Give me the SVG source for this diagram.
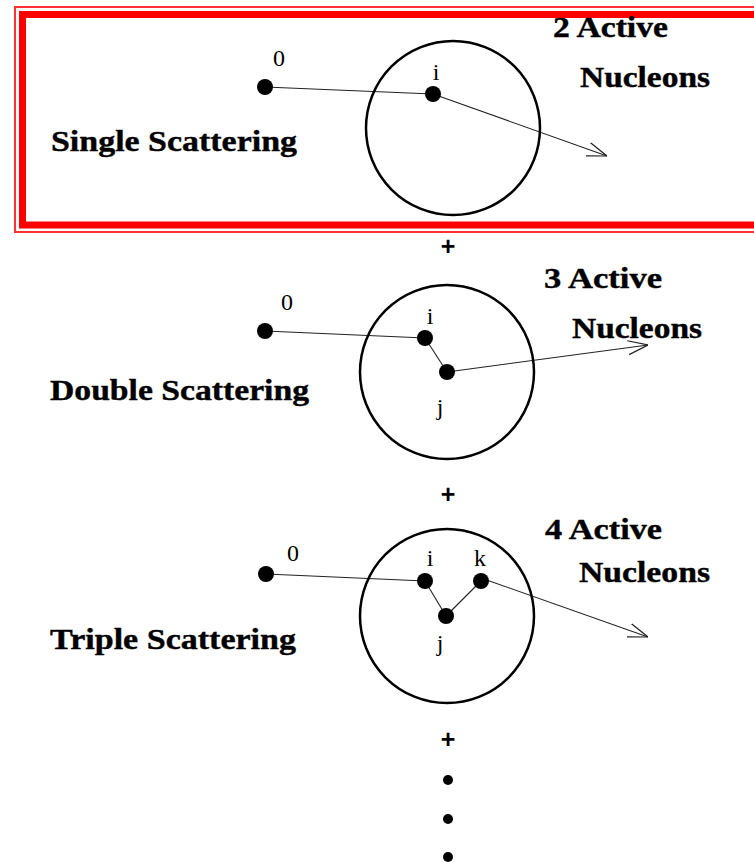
<svg xmlns="http://www.w3.org/2000/svg" width="754" height="862" viewBox="0 0 754 862">
<style>
.title{font-family:"Liberation Serif","DejaVu Serif",serif;font-weight:bold;font-size:30px;fill:#000;stroke:#000;stroke-width:0.4}
.lbl{font-family:"Liberation Serif","DejaVu Serif",serif;font-size:24px;fill:#000}
.plus{font-family:"Liberation Sans","DejaVu Sans",sans-serif;font-weight:bold;font-size:25px;fill:#000}
.nuc{fill:none;stroke:#000;stroke-width:2.5}
.dot{fill:#000}
.ln{fill:none;stroke:#222;stroke-width:1.1}
</style>
<defs>
<marker id="arr" viewBox="0 0 20 16" refX="20" refY="8" markerWidth="20" markerHeight="16" markerUnits="userSpaceOnUse" orient="auto">
<path d="M0,1 L20,8 L0,15" fill="none" stroke="#222" stroke-width="1.2"/>
</marker>
</defs>
<rect width="754" height="862" fill="#fff"/>
<g id="frame">
<rect x="15" y="7" width="760" height="225" fill="none" stroke="#ff3030" stroke-width="2"/>
<rect x="22.5" y="14.5" width="760" height="210.5" fill="none" stroke="#ff0000" stroke-width="7"/>
</g>
<g id="connectors">
<line class="ln" x1="265" y1="87" x2="433" y2="94"/>
<line class="ln" x1="433" y1="94" x2="607" y2="156" marker-end="url(#arr)"/>
<line class="ln" x1="265" y1="331" x2="425" y2="338"/>
<line class="ln" x1="425" y1="338" x2="447" y2="372"/>
<line class="ln" x1="447" y1="372" x2="648" y2="345" marker-end="url(#arr)"/>
<line class="ln" x1="266" y1="574" x2="425" y2="581"/>
<line class="ln" x1="425" y1="581" x2="446" y2="616"/>
<line class="ln" x1="446" y1="616" x2="481" y2="581"/>
<line class="ln" x1="481" y1="578" x2="648" y2="637" marker-end="url(#arr)"/>
</g>
<g id="single">
<circle class="nuc" cx="453" cy="128" r="87"/>
<circle class="dot" cx="265" cy="87" r="8"/>
<circle class="dot" cx="433" cy="94" r="8"/>
<text class="lbl" x="279" y="66" text-anchor="middle">0</text>
<text class="lbl" x="436" y="80" text-anchor="middle">i</text>
<text class="title" x="51" y="151" textLength="246" lengthAdjust="spacingAndGlyphs">Single Scattering</text>
<text class="title" x="553" y="37" textLength="115" lengthAdjust="spacingAndGlyphs">2 Active</text>
<text class="title" x="580" y="87" textLength="130" lengthAdjust="spacingAndGlyphs">Nucleons</text>
</g>
<text class="plus" x="448" y="255" text-anchor="middle">+</text>
<g id="double">
<circle class="nuc" cx="447" cy="372" r="87"/>
<circle class="dot" cx="265" cy="331" r="8"/>
<circle class="dot" cx="425" cy="338" r="8"/>
<circle class="dot" cx="447" cy="372" r="8"/>
<text class="lbl" x="287" y="310" text-anchor="middle">0</text>
<text class="lbl" x="430" y="324" text-anchor="middle">i</text>
<text class="lbl" x="440" y="415" text-anchor="middle">j</text>
<text class="title" x="50" y="400" textLength="259" lengthAdjust="spacingAndGlyphs">Double Scattering</text>
<text class="title" x="544" y="288" textLength="118" lengthAdjust="spacingAndGlyphs">3 Active</text>
<text class="title" x="572" y="338" textLength="130" lengthAdjust="spacingAndGlyphs">Nucleons</text>
</g>
<text class="plus" x="448" y="503" text-anchor="middle">+</text>
<g id="triple">
<circle class="nuc" cx="447" cy="616" r="87"/>
<circle class="dot" cx="266" cy="574" r="8"/>
<circle class="dot" cx="425" cy="581" r="8"/>
<circle class="dot" cx="446" cy="616" r="8"/>
<circle class="dot" cx="481" cy="581" r="8"/>
<text class="lbl" x="293" y="561" text-anchor="middle">0</text>
<text class="lbl" x="430" y="566" text-anchor="middle">i</text>
<text class="lbl" x="480" y="566" text-anchor="middle">k</text>
<text class="lbl" x="440" y="651" text-anchor="middle">j</text>
<text class="title" x="50" y="649" textLength="246" lengthAdjust="spacingAndGlyphs">Triple Scattering</text>
<text class="title" x="545" y="539" textLength="117" lengthAdjust="spacingAndGlyphs">4 Active</text>
<text class="title" x="579" y="582" textLength="131" lengthAdjust="spacingAndGlyphs">Nucleons</text>
</g>
<text class="plus" x="448" y="748" text-anchor="middle">+</text>
<g id="ellipsis">
<circle class="dot" cx="448" cy="780" r="5"/>
<circle class="dot" cx="448" cy="819" r="5"/>
<circle class="dot" cx="448" cy="857" r="5"/>
</g>
</svg>
